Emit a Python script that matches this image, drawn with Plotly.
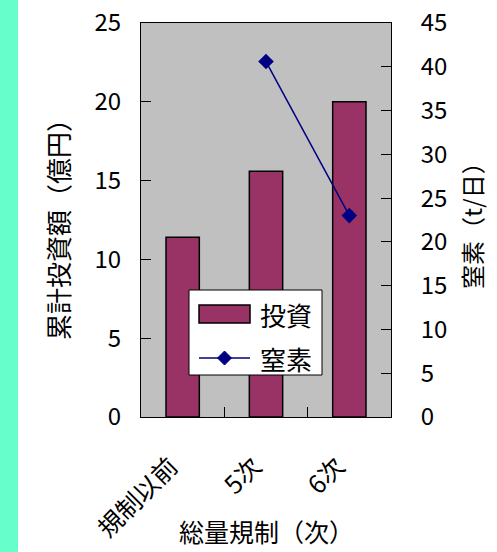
import plotly.graph_objects as go

# Data
categories = ["規制以前", "5次", "6次"]
investment = [11.4, 15.6, 20.0]        # 累計投資額 (億円)
nitrogen = [None, 40.6, 23.0]          # 窒素 (t/日)
left_ticks = [0, 5, 10, 15, 20, 25]
right_ticks = [0, 5, 10, 15, 20, 25, 30, 35, 40, 45]

BAR_COLOR = "#993366"
LINE_COLOR = "#000080"

W, H = 497, 552
L, R, T, B = 141, 106, 23, 135
pw, ph = W - L - R, H - T - B

FONT = "Noto Sans CJK JP"

fig = go.Figure()

fig.add_trace(go.Bar(
    x=categories, y=investment, name="投資",
    marker=dict(color=BAR_COLOR, line=dict(color="#000000", width=1.5)),
    yaxis="y", showlegend=False,
))

fig.add_trace(go.Scatter(
    x=categories, y=nitrogen, name="窒素",
    mode="lines+markers",
    line=dict(color=LINE_COLOR, width=1.5),
    marker=dict(symbol="diamond", size=12, color=LINE_COLOR),
    yaxis="y2", connectgaps=False, showlegend=False,
))


def px_x(px):
    return (px - L) / pw


def px_y(py):
    return (H - B - py) / ph


def rect(x0, y0, x1, y1, **kw):
    return dict(type="rect", xref="paper", yref="paper",
                x0=px_x(x0), x1=px_x(x1), y0=px_y(y1), y1=px_y(y0), **kw)


# Boxed legend drawn in pixel space inside the plot area
LEG = dict(x0=189, y0=290, x1=322, y1=375)
sw_x0, sw_x1 = 199, 250
row1_y, row2_y = 314, 358
dm = 7  # half-size of the legend diamond
diamond_path = "M {} {} L {} {} L {} {} L {} {} Z".format(
    px_x((sw_x0 + sw_x1) / 2), px_y(row2_y - dm),
    px_x((sw_x0 + sw_x1) / 2 + dm), px_y(row2_y),
    px_x((sw_x0 + sw_x1) / 2), px_y(row2_y + dm),
    px_x((sw_x0 + sw_x1) / 2 - dm), px_y(row2_y),
)

shapes = [
    rect(0, 0, 18, H, layer="below", fillcolor="#66ffcc", line=dict(width=0)),
    rect(LEG["x0"], LEG["y0"], LEG["x1"], LEG["y1"],
         fillcolor="#ffffff", line=dict(color="#000000", width=1)),
    rect(sw_x0, row1_y - 9, sw_x1, row1_y + 9,
         fillcolor=BAR_COLOR, line=dict(color="#000000", width=1.5)),
    dict(type="line", xref="paper", yref="paper",
         x0=px_x(sw_x0), x1=px_x(sw_x1), y0=px_y(row2_y), y1=px_y(row2_y),
         line=dict(color=LINE_COLOR, width=1.5)),
    dict(type="path", xref="paper", yref="paper", path=diamond_path,
         fillcolor=LINE_COLOR, line=dict(color=LINE_COLOR, width=1)),
]

fig.update_layout(
    width=W, height=H,
    margin=dict(l=L, r=R, t=T, b=B, autoexpand=False),
    paper_bgcolor="#ffffff",
    plot_bgcolor="#c0c0c0",
    font=dict(family=FONT, color="#000000", size=24),
    bargap=0.6,
    showlegend=False,
    xaxis=dict(
        type="category", automargin=False,
        showline=True, linecolor="#000000", linewidth=1, mirror=True,
        ticks="inside", ticklen=10, tickcolor="#000000", tickson="boundaries",
        tickangle=-45, tickfont=dict(size=25),
        ticklabelstandoff=24, ticklabelshift=-12,
        showgrid=False, zeroline=False,
    ),
    yaxis=dict(
        range=[0, 25], tickvals=left_ticks, automargin=False,
        showline=True, linecolor="#000000", linewidth=1,
        ticks="inside", ticklen=10, tickcolor="#000000",
        ticklabelstandoff=14,
        showgrid=False, zeroline=False,
        tickfont=dict(size=24),
    ),
    yaxis2=dict(
        range=[0, 45], tickvals=right_ticks, automargin=False,
        overlaying="y", side="right",
        showline=True, linecolor="#000000", linewidth=1,
        ticks="inside", ticklen=10, tickcolor="#000000",
        ticklabelstandoff=24,
        showgrid=False, zeroline=False,
        tickfont=dict(size=24),
    ),
    shapes=shapes,
    annotations=[
        dict(text="投資", xref="paper", yref="paper",
             x=px_x(258), y=px_y(row1_y), showarrow=False,
             xanchor="left", yanchor="middle", font=dict(size=26)),
        dict(text="窒素", xref="paper", yref="paper",
             x=px_x(258), y=px_y(row2_y), showarrow=False,
             xanchor="left", yanchor="middle", font=dict(size=26)),
        dict(text="総量規制（次）", xref="paper", yref="paper",
             x=px_x(266), y=px_y(531), showarrow=False,
             xanchor="center", yanchor="middle", font=dict(size=25)),
        dict(text="累計投資額（億円）", xref="paper", yref="paper",
             x=px_x(57), y=px_y(223), showarrow=False, textangle=-90,
             xanchor="center", yanchor="middle", font=dict(size=26)),
        dict(text="窒素（t/日）", xref="paper", yref="paper",
             x=px_x(471), y=px_y(220), showarrow=False, textangle=-90,
             xanchor="center", yanchor="middle", font=dict(size=24)),
    ],
)

fig.write_html("out.html")
